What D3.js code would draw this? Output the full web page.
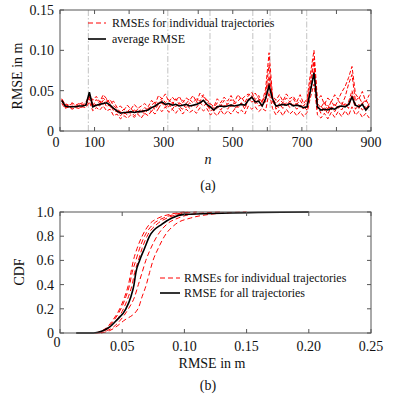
<!DOCTYPE html>
<html><head><meta charset="utf-8">
<script src="https://cdn.jsdelivr.net/npm/d3@7"></script>
<style>body{margin:0;background:#fff}</style>
</head><body><svg id="c" width="393" height="396"></svg>
<script>
// ---------- data: panel (a) ----------
const nStart = 5, nStep = 10;
const avgRMSE = [0.038,0.031,0.030,0.030,0.030,0.031,0.031,0.032,0.048,0.030,
0.032,0.033,0.034,0.035,0.032,0.028,0.025,0.022,0.023,0.023,
0.024,0.023,0.024,0.024,0.025,0.026,0.029,0.031,0.034,0.036,
0.033,0.034,0.032,0.033,0.031,0.032,0.033,0.031,0.032,0.033,
0.035,0.038,0.033,0.030,0.026,0.030,0.031,0.030,0.031,0.032,
0.031,0.032,0.033,0.032,0.038,0.042,0.036,0.037,0.031,0.040,
0.056,0.040,0.031,0.032,0.033,0.032,0.034,0.031,0.032,0.031,
0.029,0.030,0.050,0.072,0.030,0.026,0.027,0.026,0.028,0.027,
0.030,0.031,0.030,0.033,0.042,0.032,0.030,0.033,0.026,0.031];
const traj1 = [0.040,0.033,0.031,0.034,0.030,0.033,0.035,0.032,0.046,0.038,
0.043,0.036,0.045,0.040,0.034,0.037,0.029,0.031,0.026,0.032,
0.027,0.033,0.028,0.031,0.034,0.030,0.038,0.033,0.044,0.040,
0.046,0.036,0.042,0.037,0.043,0.035,0.041,0.038,0.044,0.036,
0.047,0.042,0.039,0.034,0.030,0.040,0.035,0.042,0.037,0.044,
0.036,0.045,0.039,0.043,0.046,0.041,0.047,0.040,0.036,0.052,
0.097,0.044,0.038,0.045,0.037,0.046,0.040,0.043,0.036,0.045,
0.034,0.040,0.072,0.100,0.038,0.044,0.033,0.041,0.036,0.045,
0.039,0.048,0.055,0.066,0.080,0.046,0.040,0.049,0.036,0.045];
const traj2 = [0.037,0.029,0.031,0.028,0.031,0.029,0.030,0.033,0.040,0.029,
0.034,0.031,0.038,0.030,0.033,0.025,0.024,0.019,0.023,0.020,
0.024,0.019,0.022,0.025,0.021,0.027,0.024,0.031,0.028,0.035,
0.029,0.034,0.027,0.033,0.030,0.027,0.034,0.028,0.032,0.029,
0.035,0.031,0.034,0.025,0.027,0.031,0.026,0.032,0.027,0.033,
0.028,0.031,0.035,0.027,0.040,0.036,0.038,0.031,0.033,0.036,
0.068,0.042,0.027,0.034,0.028,0.035,0.029,0.033,0.027,0.032,
0.030,0.026,0.055,0.086,0.031,0.022,0.029,0.021,0.030,0.024,
0.031,0.026,0.034,0.028,0.045,0.027,0.033,0.026,0.030,0.025];
const traj3 = [0.034,0.028,0.030,0.027,0.029,0.028,0.030,0.029,0.036,0.025,
0.029,0.026,0.031,0.025,0.027,0.019,0.021,0.015,0.019,0.016,
0.020,0.017,0.021,0.016,0.022,0.019,0.025,0.021,0.028,0.024,
0.030,0.023,0.027,0.022,0.028,0.021,0.027,0.023,0.026,0.022,
0.029,0.025,0.028,0.020,0.023,0.019,0.026,0.020,0.025,0.021,
0.027,0.022,0.026,0.021,0.031,0.027,0.030,0.024,0.028,0.025,
0.048,0.028,0.020,0.026,0.019,0.027,0.021,0.025,0.019,0.024,
0.018,0.023,0.042,0.058,0.020,0.016,0.022,0.015,0.023,0.017,
0.024,0.018,0.025,0.019,0.030,0.020,0.024,0.017,0.022,0.016];
const traj4 = [0.039,0.034,0.032,0.035,0.032,0.034,0.032,0.036,0.044,0.031,
0.039,0.034,0.041,0.036,0.039,0.031,0.028,0.023,0.027,0.024,
0.028,0.023,0.027,0.024,0.029,0.026,0.032,0.036,0.034,0.041,
0.035,0.039,0.033,0.040,0.033,0.038,0.034,0.039,0.035,0.040,
0.037,0.045,0.036,0.033,0.028,0.035,0.031,0.038,0.033,0.039,
0.034,0.037,0.042,0.035,0.044,0.048,0.039,0.044,0.035,0.046,
0.082,0.040,0.034,0.039,0.035,0.041,0.036,0.040,0.033,0.038,
0.031,0.037,0.063,0.090,0.034,0.029,0.036,0.027,0.037,0.030,
0.038,0.032,0.042,0.058,0.070,0.037,0.042,0.034,0.039,0.031];
const traj5 = [0.038,0.031,0.029,0.031,0.030,0.031,0.033,0.031,0.042,0.034,
0.031,0.037,0.033,0.039,0.030,0.028,0.026,0.024,0.021,0.025,
0.022,0.026,0.023,0.027,0.024,0.028,0.030,0.027,0.033,0.038,
0.032,0.030,0.036,0.030,0.035,0.032,0.029,0.035,0.031,0.036,
0.033,0.039,0.031,0.029,0.025,0.028,0.033,0.029,0.034,0.030,
0.035,0.029,0.034,0.031,0.037,0.044,0.034,0.039,0.030,0.041,
0.060,0.036,0.031,0.029,0.036,0.031,0.037,0.030,0.035,0.029,
0.028,0.033,0.050,0.075,0.028,0.031,0.025,0.032,0.026,0.033,
0.028,0.035,0.030,0.036,0.050,0.033,0.028,0.035,0.027,0.034];
const markers = [82, 312, 434, 558, 608, 714];
const xTicksA = [0,100,200,300,400,500,600,700,800,900];
const xLabelsA = [0,100,300,500,700,900];
const yTicksA = [0,0.05,0.10,0.15];

// ---------- data: panel (b) ----------
const cdfLevels = [0,0.02,0.05,0.1,0.2,0.3,0.4,0.5,0.6,0.7,0.8,0.9,0.95,0.98,1.0];
const cdfA = [0.028,0.034,0.038,0.042,0.048,0.052,0.055,0.057,0.059,0.062,0.066,0.072,0.079,0.088,0.100];
const cdfB = [0.029,0.035,0.039,0.043,0.049,0.053,0.056,0.058,0.061,0.064,0.068,0.075,0.083,0.092,0.105];
const cdfC = [0.030,0.036,0.040,0.045,0.051,0.055,0.058,0.060,0.063,0.066,0.070,0.078,0.086,0.095,0.110];
const cdfD = [0.031,0.038,0.043,0.048,0.055,0.060,0.063,0.066,0.069,0.073,0.078,0.086,0.095,0.105,0.130];
const cdfE = [0.033,0.040,0.045,0.051,0.0627,0.066,0.0694,0.072,0.0748,0.079,0.084,0.093,0.105,0.120,0.150];
const cdfAllLevels = [0,0,0.02,0.05,0.1,0.2,0.3,0.4,0.5,0.6,0.7,0.8,0.9,0.95,0.98,0.99,1.0];
const cdfAll = [0.013,0.027,0.035,0.040,0.045,0.053,0.057,0.0595,0.061,0.064,0.068,0.072,0.082,0.090,0.100,0.130,0.200];
const xTicksB = [0,0.05,0.10,0.15,0.20,0.25];
const yTicksB = [0,0.2,0.4,0.6,0.8,1.0];

// ---------- drawing ----------
const FONT = "'Liberation Serif', 'DejaVu Serif', 'Times New Roman', serif";
const svg = d3.select("#c").attr("font-family", FONT);
const L = 60, R = 371;
const fs = 14;

function txt(g, x, y, s, size, anchor) {
  return g.append("text").attr("x", x).attr("y", y).attr("font-family", FONT)
    .attr("font-size", size).attr("text-anchor", anchor || "start").attr("fill", "#111").text(s);
}
function frame(g, top, bot) {
  g.append("rect").attr("x", L).attr("y", top).attr("width", R - L).attr("height", bot - top)
    .attr("fill", "none").attr("stroke", "#555").attr("stroke-width", 1);
}

// Panel (a)
const xa = d3.scaleLinear().domain([0, 900]).range([L, R]);
const ya = d3.scaleLinear().domain([0, 0.15]).range([131, 10]);
const ga = svg.append("g");
svg.append("clipPath").attr("id", "clipA").append("rect")
  .attr("x", L).attr("y", 10).attr("width", R - L).attr("height", 121);

markers.forEach(m => {
  ga.append("line").attr("x1", xa(m)).attr("x2", xa(m)).attr("y1", ya(0)).attr("y2", ya(0.15))
    .attr("stroke", "#bbb").attr("stroke-width", 0.9).attr("stroke-dasharray", "6,2,1.5,2");
});

const lineA = d3.line().x((d, i) => xa(nStart + i * nStep)).y(d => ya(d));
[traj1, traj2, traj3, traj4, traj5].forEach(s => {
  ga.append("path").attr("d", lineA(s)).attr("fill", "none").attr("stroke", "#f00")
    .attr("stroke-width", 1).attr("stroke-dasharray", "4,2").attr("clip-path", "url(#clipA)");
});
ga.append("path").attr("d", lineA(avgRMSE)).attr("fill", "none").attr("stroke", "#000")
  .attr("stroke-width", 1.6).attr("clip-path", "url(#clipA)");

xTicksA.forEach(t => {
  ga.append("line").attr("x1", xa(t)).attr("x2", xa(t)).attr("y1", 131).attr("y2", 127).attr("stroke", "#555");
  ga.append("line").attr("x1", xa(t)).attr("x2", xa(t)).attr("y1", 10).attr("y2", 14).attr("stroke", "#555");
});
yTicksA.forEach(t => {
  ga.append("line").attr("x1", L).attr("x2", L + 4).attr("y1", ya(t)).attr("y2", ya(t)).attr("stroke", "#555");
  ga.append("line").attr("x1", R).attr("x2", R - 4).attr("y1", ya(t)).attr("y2", ya(t)).attr("stroke", "#555");
});
frame(ga, 10, 131);
xLabelsA.forEach(t => txt(ga, t === 0 ? xa(t) - 4 : xa(t), 147, t, fs, "middle"));
yTicksA.forEach(t => txt(ga, 54, ya(t) + 5, t === 0 ? "0" : d3.format(".2f")(t), fs, "end"));
ga.append("text").attr("transform", "translate(22,76) rotate(-90)").attr("text-anchor", "middle")
  .attr("font-family", FONT).attr("font-size", fs).attr("fill", "#111").text("RMSE in m");
txt(ga, 208, 164, "n", fs, "middle").attr("font-style", "italic");
txt(ga, 208, 190, "(a)", fs, "middle");
ga.append("line").attr("x1", 88).attr("x2", 106).attr("y1", 23).attr("y2", 23)
  .attr("stroke", "#f00").attr("stroke-dasharray", "5,3");
txt(ga, 112, 27, "RMSEs for individual trajectories", 12);
ga.append("line").attr("x1", 88).attr("x2", 106).attr("y1", 39).attr("y2", 39)
  .attr("stroke", "#000").attr("stroke-width", 1.6);
txt(ga, 112, 43, "average RMSE", 12);

// Panel (b)
const xb = d3.scaleLinear().domain([0, 0.25]).range([L, R]);
const yb = d3.scaleLinear().domain([0, 1]).range([333, 212]);
const gb = svg.append("g");
const lineB = lv => d3.line().curve(d3.curveMonotoneX).x(d => xb(d)).y((d, i) => yb(lv[i]));
[cdfA, cdfB, cdfC, cdfD, cdfE].forEach(s => {
  gb.append("path").attr("d", lineB(cdfLevels)(s)).attr("fill", "none").attr("stroke", "#f00")
    .attr("stroke-width", 1).attr("stroke-dasharray", "5,3");
});
gb.append("path").attr("d", lineB(cdfAllLevels)(cdfAll)).attr("fill", "none").attr("stroke", "#000")
  .attr("stroke-width", 1.6);

xTicksB.forEach(t => {
  gb.append("line").attr("x1", xb(t)).attr("x2", xb(t)).attr("y1", 333).attr("y2", 329).attr("stroke", "#555");
  gb.append("line").attr("x1", xb(t)).attr("x2", xb(t)).attr("y1", 212).attr("y2", 216).attr("stroke", "#555");
});
yTicksB.forEach(t => {
  gb.append("line").attr("x1", L).attr("x2", L + 4).attr("y1", yb(t)).attr("y2", yb(t)).attr("stroke", "#555");
  gb.append("line").attr("x1", R).attr("x2", R - 4).attr("y1", yb(t)).attr("y2", yb(t)).attr("stroke", "#555");
});
frame(gb, 212, 333);
xTicksB.forEach(t => txt(gb, t === 0 ? xb(t) - 3 : xb(t), t === 0 ? 347 : 351,
  t === 0 ? "0" : d3.format(".2f")(t), fs, "middle"));
yTicksB.forEach(t => txt(gb, 54, yb(t) + 5, t === 0 ? "0" : d3.format(".1f")(t), fs, "end"));
gb.append("text").attr("transform", "translate(24,272) rotate(-90)").attr("text-anchor", "middle")
  .attr("font-family", FONT).attr("font-size", fs).attr("fill", "#111").text("CDF");
txt(gb, 212, 368, "RMSE in m", fs, "middle");
txt(gb, 208, 390, "(b)", fs, "middle");
gb.append("line").attr("x1", 160).attr("x2", 180).attr("y1", 278).attr("y2", 278)
  .attr("stroke", "#f00").attr("stroke-dasharray", "5,3");
txt(gb, 184, 282, "RMSEs for individual trajectories", 12);
gb.append("line").attr("x1", 160).attr("x2", 180).attr("y1", 293).attr("y2", 293)
  .attr("stroke", "#000").attr("stroke-width", 1.6);
txt(gb, 184, 297, "RMSE for all trajectories", 12);
</script></body></html>
